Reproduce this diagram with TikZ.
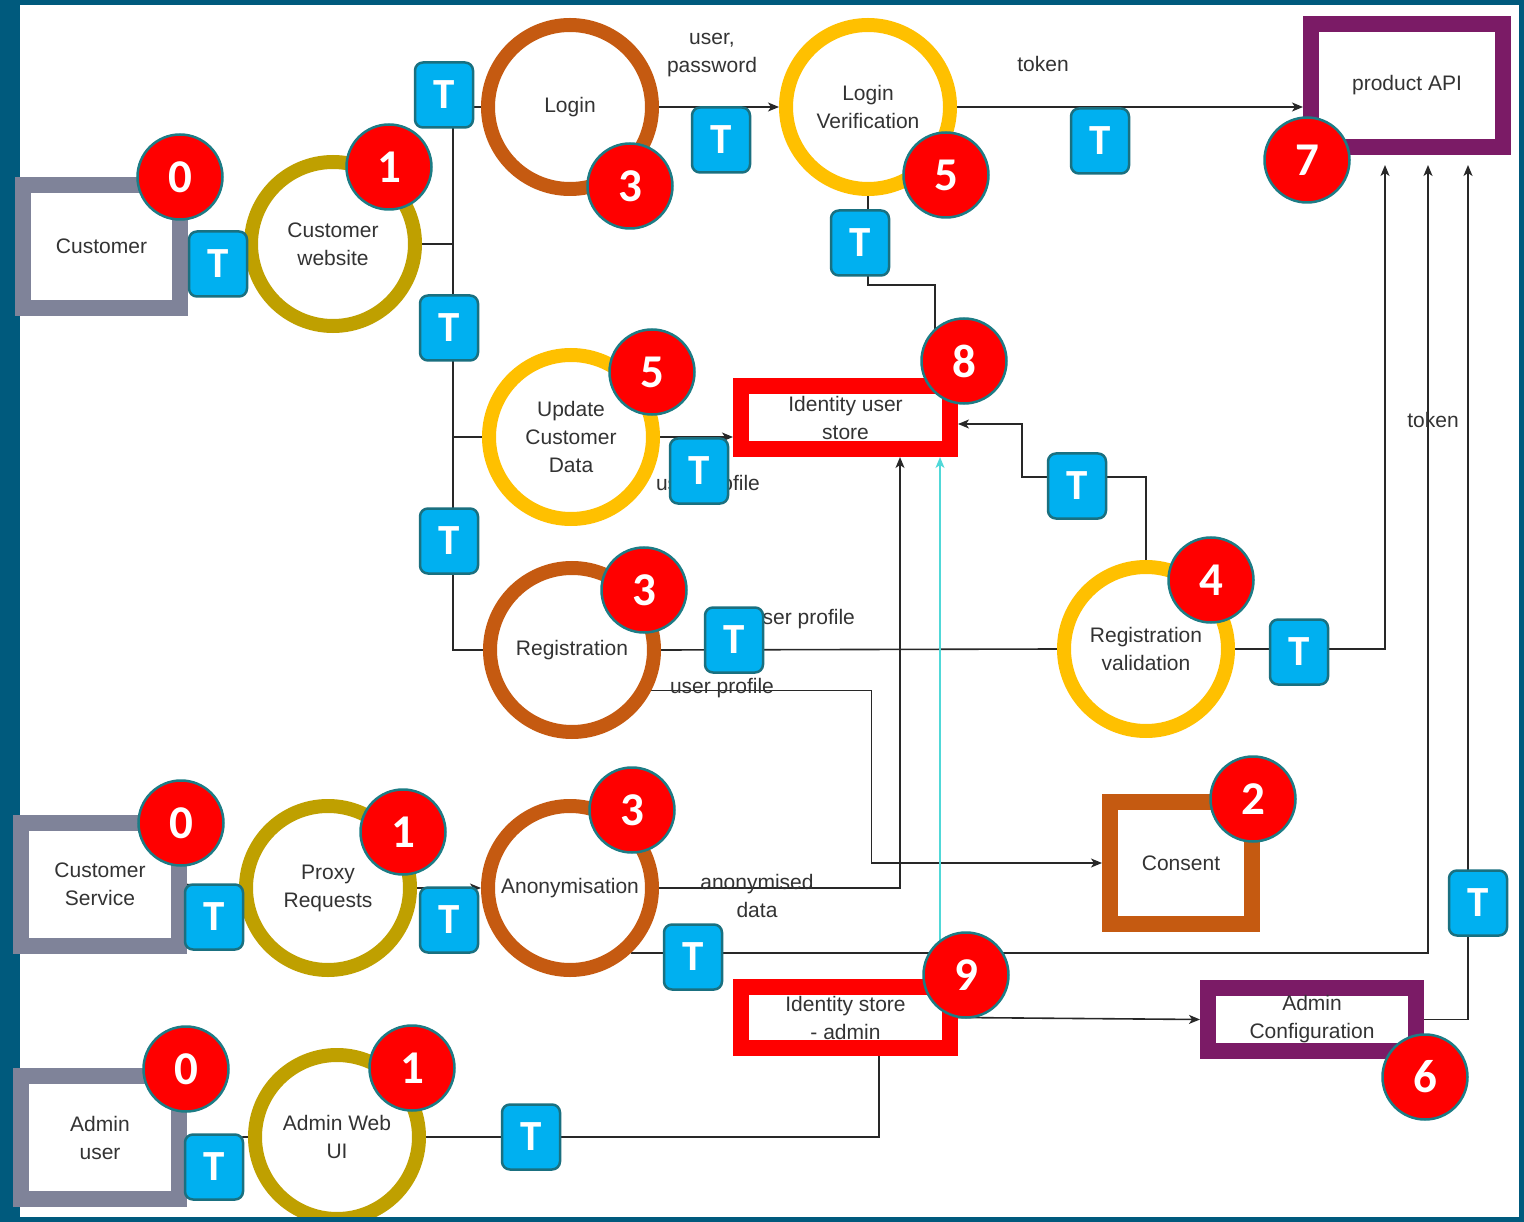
\documentclass[tikz,border=0pt]{standalone}
\usepackage{fontspec}
\setmainfont{Liberation Sans}
\newfontfamily\badgefont{Carlito}
\usetikzlibrary{arrows.meta,calc}
\definecolor{framec}{RGB}{0,90,125}
\definecolor{txtc}{RGB}{51,51,51}
\definecolor{linec}{RGB}{40,40,40}
\definecolor{goldc}{RGB}{191,160,0}
\definecolor{brownc}{RGB}{197,90,17}
\definecolor{yellowc}{RGB}{255,192,0}
\definecolor{redc}{RGB}{255,0,0}
\definecolor{purplec}{RGB}{123,27,102}
\definecolor{grayc}{RGB}{127,131,153}
\definecolor{tfill}{RGB}{0,176,240}
\definecolor{tedge}{RGB}{26,112,128}
\definecolor{badgeedge}{RGB}{28,124,133}
\definecolor{cyanc}{RGB}{80,216,216}
\pgfdeclarelayer{bgzero}
\pgfdeclarelayer{background}
\pgfsetlayers{bgzero,background,main}
\begin{document}
\begin{tikzpicture}[x=1pt,y=-1pt,
  txt/.style={text=txtc, font=\fontsize{21}{28}\selectfont, align=center},
  ring/.style={circle, draw=#1, line width=14pt, minimum size=164pt, inner sep=0pt, fill=white, txt},
  box/.style={rectangle, draw=#1, line width=16pt, fill=white, inner sep=0pt, txt},
  badge/.style={circle, fill=redc, draw=badgeedge, line width=2.5pt, minimum size=85pt, inner sep=0pt, text=white, font=\badgefont\bfseries\fontsize{47}{47}\selectfont},
  tbox/.style={rectangle, rounded corners=8pt, fill=tfill, draw=tedge, line width=2.5pt, minimum width=58pt, minimum height=65pt, inner sep=0pt, text=white, font=\badgefont\bfseries\fontsize{43}{43}\selectfont},
  lbl/.style={txt, inner sep=0pt},
  conn/.style={draw=linec, line width=1.6pt},
  cyanconn/.style={draw=cyanc, line width=1.6pt},
  arr/.style={-{Stealth[length=11pt,width=9pt,inset=3pt]}}
]
\useasboundingbox (0,0) rectangle (1524,1222);
\begin{pgfonlayer}{bgzero}
\fill[framec] (0,0) rectangle (1524,1222);
\fill[white] (20,5) rectangle (1519,1217);
\end{pgfonlayer}

% boxes
\node[box=grayc, minimum width=157pt, minimum height=123pt] (cust) at (101.5,246.5) {Customer};
\node[box=grayc, minimum width=158pt, minimum height=123pt] (cs) at (100,884.5) {Customer\\Service};
\node[box=grayc, minimum width=158pt, minimum height=123pt] (au) at (100,1137.5) {Admin\\user};
\node[box=purplec, minimum width=192pt, minimum height=123pt] (api) at (1407,85.5) {product API};
\node[box=redc, minimum width=209pt, minimum height=63pt] (ius) at (845.5,417.5) {Identity user\\store};
\node[box=redc, minimum width=209pt, minimum height=61pt] (isa) at (845.5,1017.5) {Identity store\\- admin};
\node[box=purplec, minimum width=208pt, minimum height=63pt] (adminconf) at (1312,1019.5) {Admin\\Configuration};
\node[box=brownc, minimum width=142pt, minimum height=122pt] (consent) at (1181,863) {Consent};

% rings
\node[ring=goldc] (cw) at (333,244) {Customer\\website};
\node[ring=brownc] (login) at (570,107) {Login};
\node[ring=yellowc] (lv) at (868,107) {Login\\Verification};
\node[ring=yellowc] (upd) at (571,437) {Update\\Customer\\Data};
\node[ring=brownc] (reg) at (572,650) {Registration};
\node[ring=yellowc] (rv) at (1146,649) {Registration\\validation};
\node[ring=goldc] (proxy) at (328,888) {Proxy\\Requests};
\node[ring=brownc] (anon) at (570,888) {Anonymisation};
\node[ring=goldc] (admweb) at (337,1137) {Admin Web\\UI};

% connector labels
\node[lbl] (l1) at (712,55) {user,\\password};
\node[lbl] (l2) at (1043,64) {token};
\node[lbl] (l3) at (1433,420) {token};
\node[lbl] (l4) at (708,485) {user profile};
\node[lbl] (l5) at (803,619) {user profile};
\node[lbl] (l6) at (722,688) {user profile};
\node[lbl] (l7) at (757,896) {anonymised\\data};

% connectors
\begin{pgfonlayer}{background}
\draw[conn] (cust.east) -- (cw.west);
\draw[conn] (cs.east) -- (proxy.west);
\draw[conn] (au.east) -- (admweb.west);
\draw[conn] (cw.east) -- (453,244) |- (login.west);
\draw[conn] (453,244) |- (upd.west);
\draw[conn] (453,244) |- (reg.west);
\draw[conn,arr] (login.east) -- (lv.west);
\draw[conn,arr] (lv.east) -- (lv.east -| api.west);
\draw[conn] (lv.south) |- (935,285) -- ([xshift=89.5pt]ius.north);
\draw[conn,arr] (upd.east) -- (upd.east -| ius.west);
\draw[conn] (reg.east) -- (rv.west);
\draw[conn,arr] (reg.-27) -- ++(220,0) |- (consent.west);
\draw[conn,arr] (anon.east) -| ([xshift=54.5pt]ius.south);
\draw[cyanconn,arr] ([xshift=94.5pt]isa.north) -- ([xshift=94.5pt]ius.south);
\draw[conn,arr,shorten >=10pt] (anon.-47) -| ([xshift=21pt]api.south);
\draw[conn,arr,shorten >=10pt] (rv.east) -| ([xshift=-22pt]api.south);
\draw[conn,arr] (rv.north) |- (1022,477) |- ([yshift=-6.5pt]ius.east);
\draw[conn,arr] (proxy.east) -- (anon.west);
\draw[conn] (admweb.east) -| ([xshift=33.5pt]isa.south);
\draw[conn,arr] (isa.east) -- (adminconf.west);
\draw[conn,arr,shorten >=10pt] (adminconf.east) -| ([xshift=61pt]api.south);
\end{pgfonlayer}

% T boxes
\node[tbox] (t1) at (218,264) {T};
\node[tbox] (t2) at (444,95) {T};
\node[tbox] (t3) at (449,328) {T};
\node[tbox] (t4) at (721,140) {T};
\node[tbox] (t5) at (1100,141) {T};
\node[tbox] (t6) at (860,243) {T};
\node[tbox] (t7) at (699,471) {T};
\node[tbox] (t8) at (449,541) {T};
\node[tbox] (t9) at (734,640) {T};
\node[tbox] (t10) at (1077,486) {T};
\node[tbox] (t11) at (1299,652) {T};
\node[tbox] (t12) at (214,917) {T};
\node[tbox] (t13) at (449,920) {T};
\node[tbox] (t14) at (693,957) {T};
\node[tbox] (t15) at (214,1167) {T};
\node[tbox] (t16) at (531,1137) {T};
\node[tbox] (t17) at (1478,903) {T};

% badges
\node[badge] (b0a) at (180,177) {0};
\node[badge] (b1a) at (389,167) {1};
\node[badge] (b3a) at (630,186) {3};
\node[badge] (b5a) at (946,175) {5};
\node[badge] (b7) at (1307,160) {7};
\node[badge] (b5b) at (652,372) {5};
\node[badge] (b8) at (964,361) {8};
\node[badge] (b3b) at (644,590) {3};
\node[badge] (b4) at (1211,580) {4};
\node[badge] (b0b) at (181,823) {0};
\node[badge] (b1b) at (403,832) {1};
\node[badge] (b3c) at (632,810) {3};
\node[badge] (b2) at (1253,799) {2};
\node[badge] (b9) at (966,975) {9};
\node[badge] (b0c) at (186,1069) {0};
\node[badge] (b1c) at (412,1068) {1};
\node[badge] (b6) at (1425,1077) {6};

\fill[framec] (0,1217) rectangle (1524,1222);
\end{tikzpicture}
\end{document}
